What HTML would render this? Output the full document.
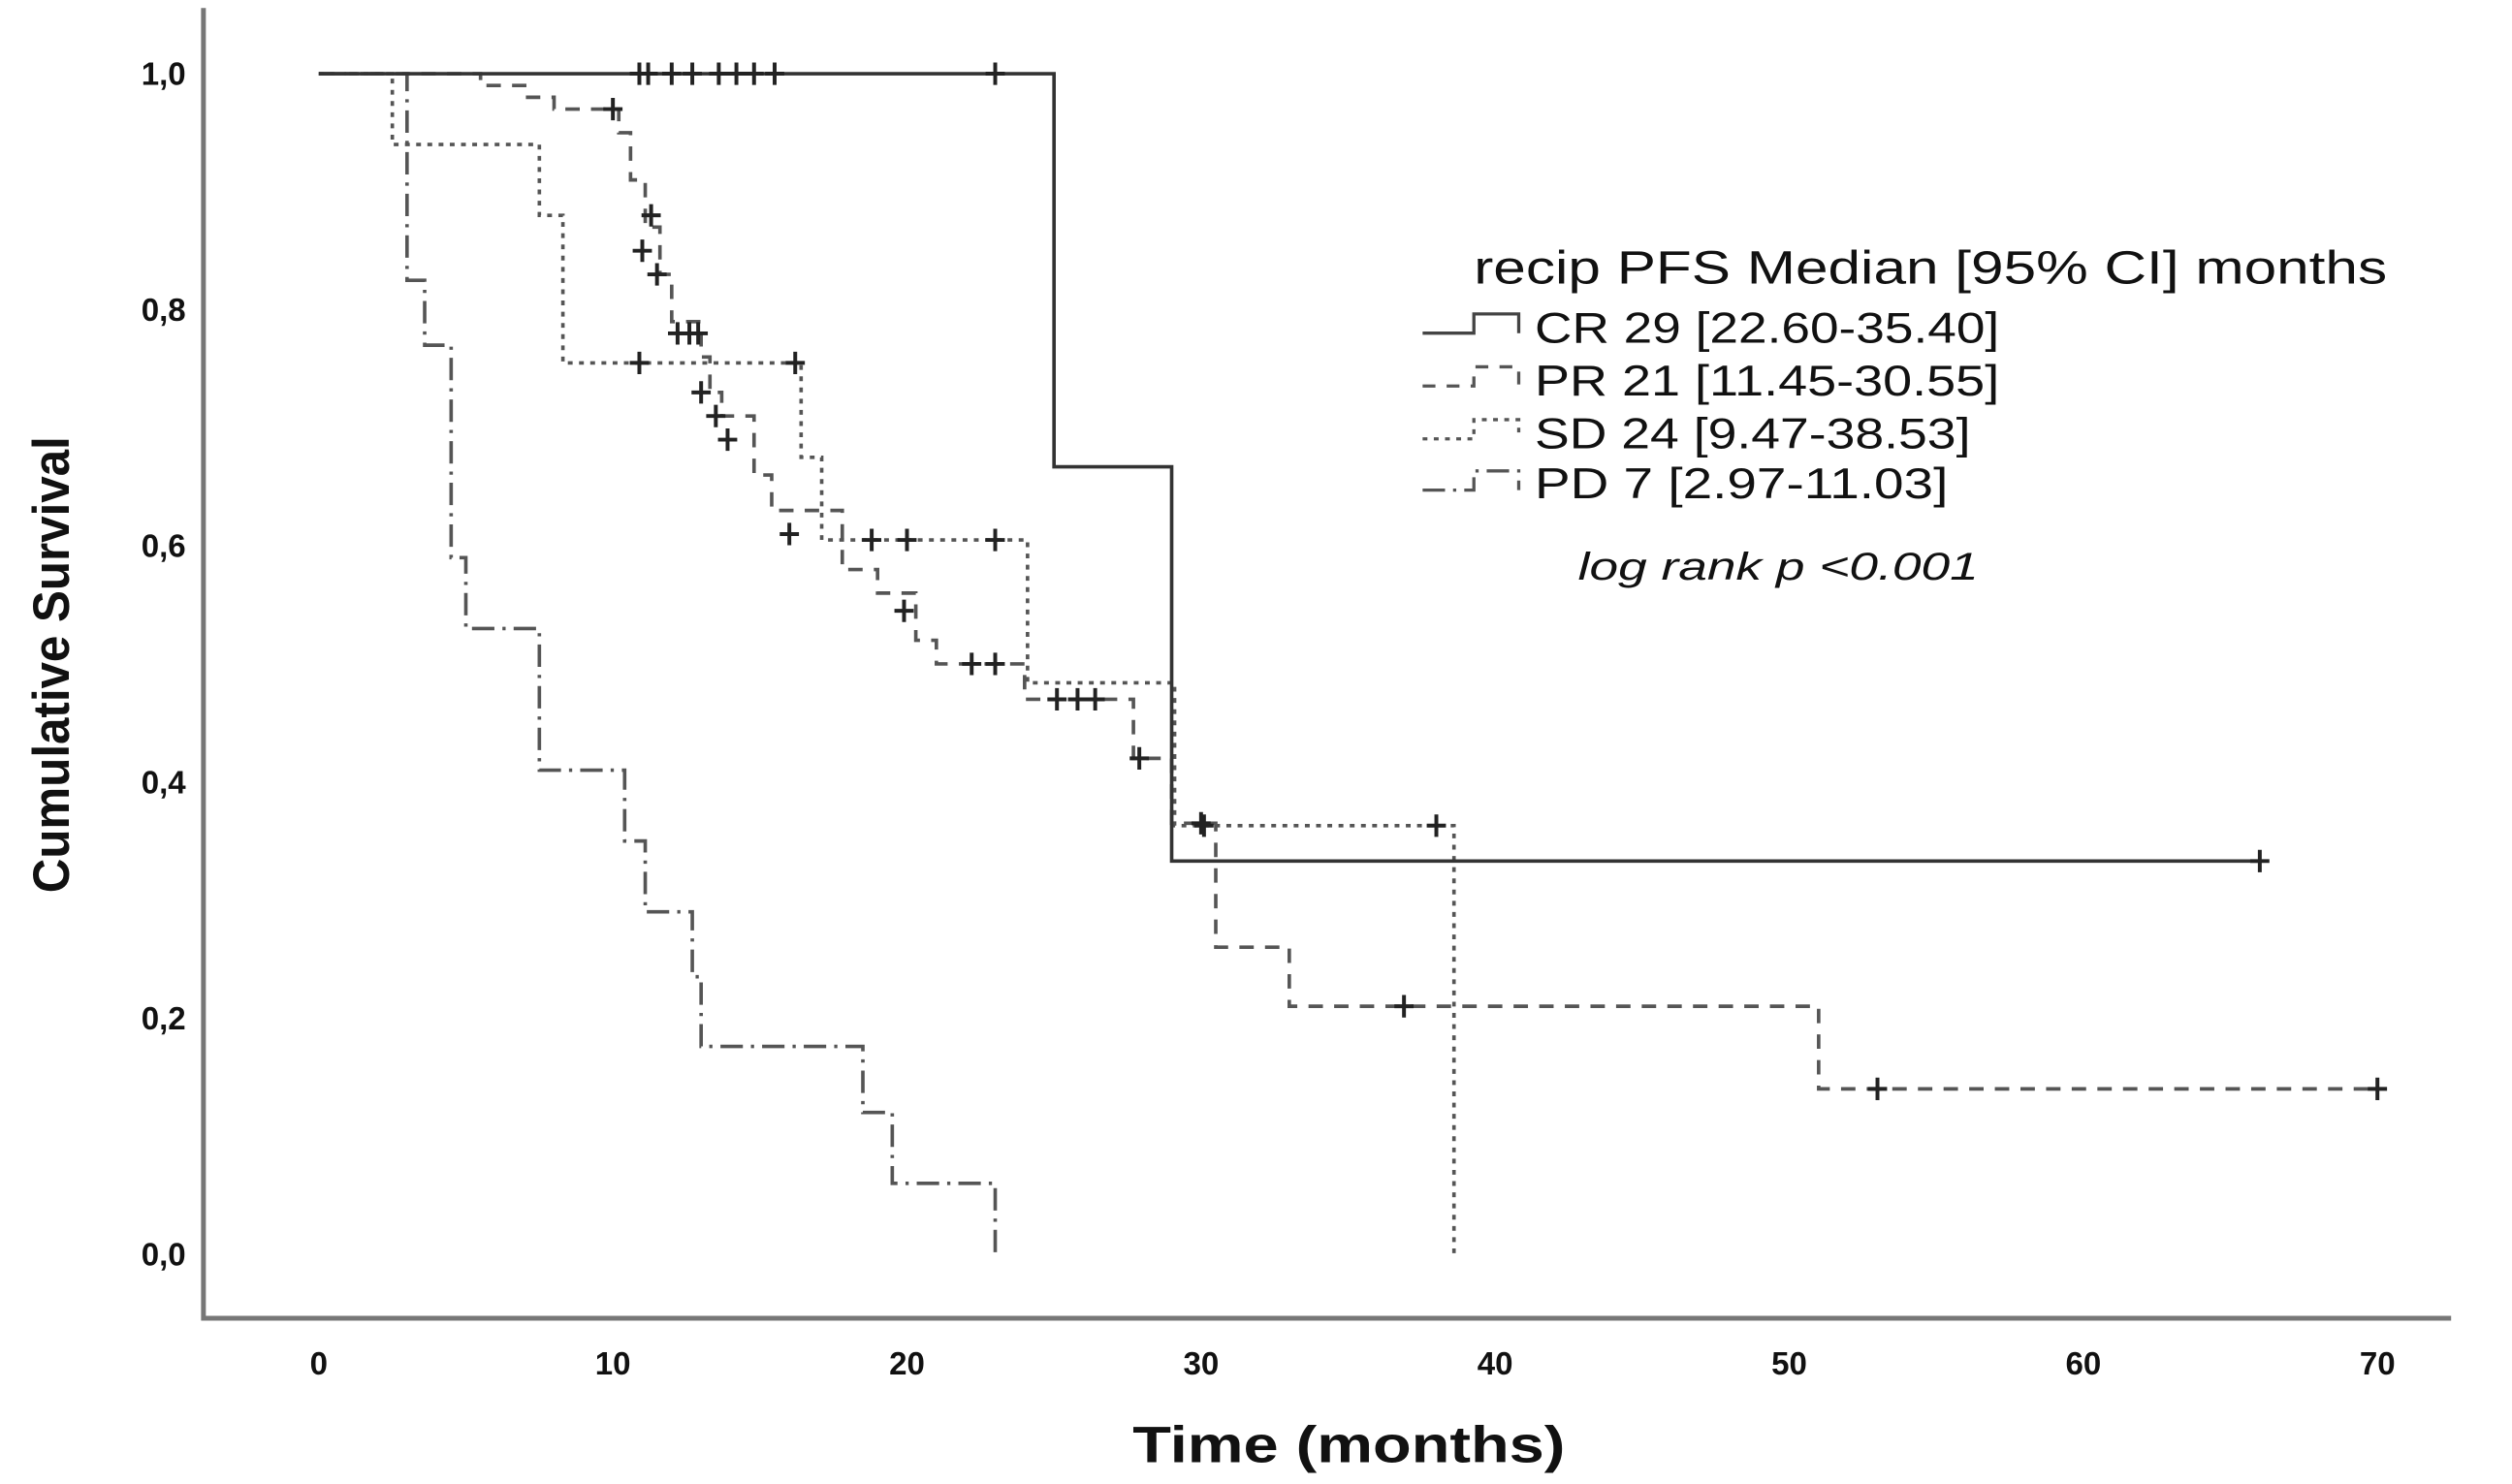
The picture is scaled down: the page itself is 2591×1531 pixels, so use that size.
<!DOCTYPE html>
<html><head><meta charset="utf-8"><style>
html,body{margin:0;padding:0;background:#fff;}
svg{display:block;}
text{font-family:"Liberation Sans",sans-serif;fill:#111;}
</style></head><body>
<svg id="chart" width="2591" height="1531" viewBox="0 0 1568 926.5" preserveAspectRatio="none" xmlns="http://www.w3.org/2000/svg">
<g id="frame">
<path d="M127,5 L127,823 L1530,823" fill="none" stroke="#777" stroke-width="3"/>
</g>
<g id="xticks"></g>
<g id="yticks"></g>
<g id="series"></g>
<text transform="translate(43,415) rotate(-90)" text-anchor="middle" font-size="32" font-weight="bold" textLength="285" lengthAdjust="spacingAndGlyphs">Cumulative Survival</text>
<text x="842" y="913" text-anchor="middle" font-size="32" font-weight="bold" textLength="270" lengthAdjust="spacingAndGlyphs">Time (months)</text>
<g>
<text x="920" y="177" font-size="29" textLength="570" lengthAdjust="spacingAndGlyphs">recip PFS Median [95% CI] months</text>
<path d="M888,208 L920,208 L920,196 L948,196 L948,208" fill="none" stroke="#444" stroke-width="2"/>
<text x="958" y="214" font-size="27" textLength="290" lengthAdjust="spacingAndGlyphs">CR 29 [22.60-35.40]</text>
<path d="M888,241 L920,241 L920,229 L948,229 L948,241" fill="none" stroke="#555" stroke-width="2" stroke-dasharray="8,7"/>
<text x="958" y="247" font-size="27" textLength="290" lengthAdjust="spacingAndGlyphs">PR 21 [11.45-30.55]</text>
<path d="M888,274 L920,274 L920,262 L948,262 L948,274" fill="none" stroke="#555" stroke-width="2" stroke-dasharray="3,4"/>
<text x="958" y="280" font-size="27" textLength="272" lengthAdjust="spacingAndGlyphs">SD 24 [9.47-38.53]</text>
<path d="M888,306 L920,306 L920,294 L948,294 L948,306" fill="none" stroke="#555" stroke-width="2" stroke-dasharray="14,5,2,5"/>
<text x="958" y="311" font-size="27" textLength="258" lengthAdjust="spacingAndGlyphs">PD 7 [2.97-11.03]</text>
<text x="985" y="362" font-size="24" font-style="italic" textLength="250" lengthAdjust="spacingAndGlyphs">log rank p &lt;0.001</text>
</g>
</svg>
<script>
const xTicks=[0,10,20,30,40,50,60,70];
const yTicks=[0,0.2,0.4,0.6,0.8,1.0];
const yTickLabels=["0,0","0,2","0,4","0,6","0,8","1,0"];
const crTimes=[0,25,29], crSurv=[1.0,0.667,0.333], crEnd=66;
const crCens=[10.9,11.2,12.0,12.7,13.6,14.2,14.8,15.5,23.0,66];
const crCensS=[1,1,1,1,1,1,1,1,1,0.333];
const prTimes=[0,5.5,7,8,10.2,10.6,11.1,11.6,12.0,13.0,13.3,13.7,14.8,15.4,17.8,19.0,20.3,21.0,24.0,27.7,29.0,30.5,33.0,51.0], prSurv=[1.0,0.99,0.98,0.97,0.95,0.91,0.87,0.83,0.79,0.76,0.73,0.71,0.66,0.63,0.58,0.56,0.52,0.50,0.47,0.42,0.365,0.26,0.21,0.14], prEnd=70;
const prCens=[10.0,11.3,11.0,11.5,12.2,12.6,12.9,13.0,13.5,13.9,16.0,19.9,22.2,23.0,25.1,25.8,26.4,27.9,30.0,36.9,53.0,70.0];
const prCensS=[0.97,0.88,0.85,0.83,0.78,0.78,0.78,0.73,0.71,0.69,0.61,0.545,0.50,0.50,0.47,0.47,0.47,0.42,0.365,0.21,0.14,0.14];
const sdTimes=[0,2.5,7.5,8.3,16.4,17.1,24.1,29.1,38.6], sdSurv=[1.0,0.94,0.88,0.755,0.675,0.605,0.484,0.363,0.0], sdEnd=38.6;
const sdCens=[10.9,16.2,18.8,20.0,23.0,30.1,38.0];
const sdCensS=[0.755,0.755,0.605,0.605,0.605,0.363,0.363];
const pdTimes=[0,3.0,3.6,4.5,5.0,7.5,10.4,11.1,12.7,13.0,18.5,19.5,23.0], pdSurv=[1.0,0.825,0.77,0.59,0.53,0.41,0.35,0.29,0.235,0.176,0.12,0.06,0.0], pdEnd=23.0;

const NS='http://www.w3.org/2000/svg';
const X=t=>199+t*(1484-199)/70;
const Y=s=>783-s*(783-46);
function mk(tag,attrs,parent){const e=document.createElementNS(NS,tag);for(const k in attrs)e.setAttribute(k,attrs[k]);parent.appendChild(e);return e;}
const xg=document.getElementById('xticks'), yg=document.getElementById('yticks'), sg=document.getElementById('series');
xTicks.forEach(t=>{const e=mk('text',{x:X(t),y:858,'text-anchor':'middle','font-size':20,'font-weight':600},xg);e.textContent=t;

});
yTicks.forEach((v,i)=>{const e=mk('text',{x:116,y:Y(v)+7,'text-anchor':'end','font-size':20,'font-weight':600},yg);e.textContent=yTickLabels[i];

});
function curve(name,times,surv,end,dash,color){
 let d='M'+X(times[0])+','+Y(surv[0]);
 for(let i=1;i<times.length;i++){d+=' L'+X(times[i])+','+Y(surv[i-1])+' L'+X(times[i])+','+Y(surv[i]);}
 d+=' L'+X(end)+','+Y(surv[surv.length-1]);
 const p=mk('path',{d:d,fill:'none',stroke:color,'stroke-width':2.2,'stroke-dasharray':dash},sg);
 
 
}
function cens(name,ts,ss){ts.forEach((t,i)=>{const x=X(t),y=Y(ss[i]);
 const p=mk('path',{d:`M${x-6},${y} L${x+6},${y} M${x},${y-7} L${x},${y+7}`,stroke:'#222','stroke-width':2.4},sg);
 
 });}
curve('curve-pd',pdTimes,pdSurv,pdEnd,'14,5,2,5','#555');
curve('curve-sd',sdTimes,sdSurv,sdEnd,'3,4','#555');
curve('curve-pr',prTimes,prSurv,prEnd,'9,7','#555');
curve('curve-cr',crTimes,crSurv,crEnd,'none','#333');
cens('censor-mark-cr',crCens,crCensS);
cens('censor-mark-pr',prCens,prCensS);
cens('censor-mark-sd',sdCens,sdCensS);
</script>
</body></html>
